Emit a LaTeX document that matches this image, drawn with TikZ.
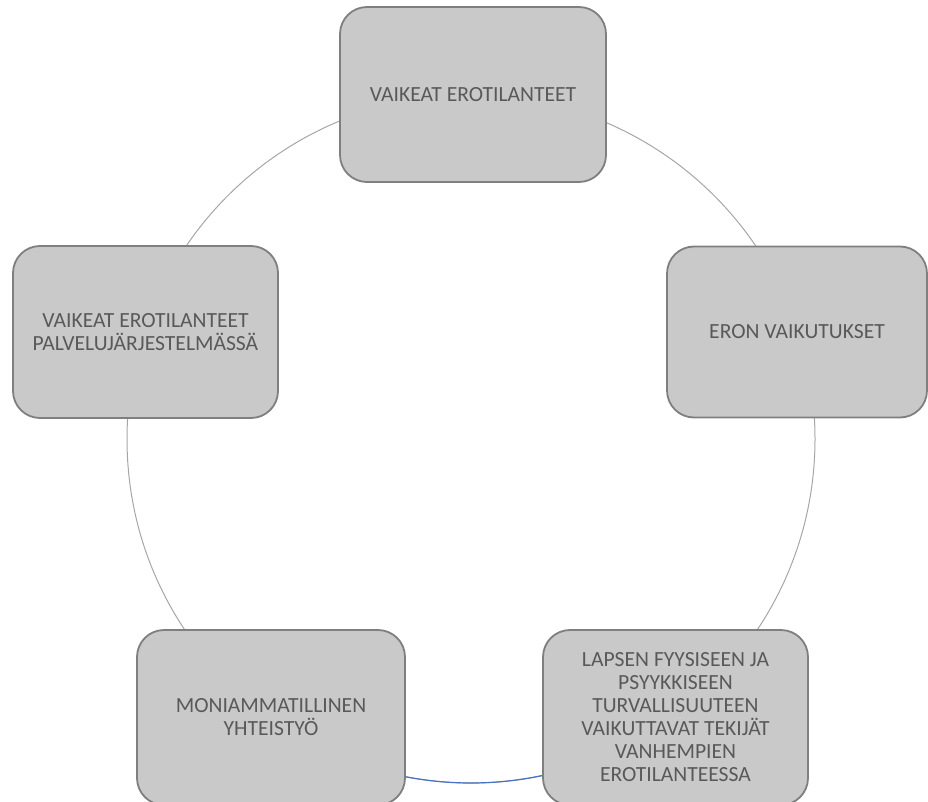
\documentclass[tikz,border=0pt]{standalone}
\usepackage{fontspec}
\setmainfont{Carlito}
\usetikzlibrary{calc}
\definecolor{boxfill}{HTML}{C9C9C9}
\definecolor{boxline}{HTML}{7F7F7F}
\definecolor{txt}{HTML}{595959}
\definecolor{arcgray}{HTML}{A6A6A6}
\definecolor{arcblue}{HTML}{4472C4}
\begin{document}
\begin{tikzpicture}[x=1pt,y=-1pt,
  cbox/.style={draw=boxline, line width=1.8pt, fill=boxfill, rounded corners=27pt,
    text=txt, align=center, inner sep=0pt,
    font=\fontsize{21.6pt}{23pt}\selectfont},
  arcline/.style={arcgray, line width=1pt}]
\useasboundingbox (0,0) rectangle (928,802);
\coordinate (c) at (471,439);
\draw[arcline] (c) circle [radius=344pt];
\draw[arcblue, line width=1.2pt] ($(c)+(255:344pt)$) arc[start angle=255, end angle=285, radius=344pt];
\node[cbox, minimum width=266pt, minimum height=175pt] (top) at (473,94.5) {VAIKEAT EROTILANTEET};
\node[cbox, minimum width=265pt, minimum height=172pt] (left) at (145.5,332) {VAIKEAT EROTILANTEET\\PALVELUJÄRJESTELMÄSSÄ};
\node[cbox, minimum width=260pt, minimum height=171pt] (right) at (797,332) {ERON VAIKUTUKSET};
\node[cbox, minimum width=268pt, minimum height=175pt] (bl) at (271,717.5) {MONIAMMATILLINEN\\YHTEISTYÖ};
\node[cbox, minimum width=265pt, minimum height=175pt] (br) at (675.5,717.5) {LAPSEN FYYSISEEN JA\\PSYYKKISEEN\\TURVALLISUUTEEN\\VAIKUTTAVAT TEKIJÄT\\VANHEMPIEN\\EROTILANTEESSA};
\end{tikzpicture}
\end{document}
